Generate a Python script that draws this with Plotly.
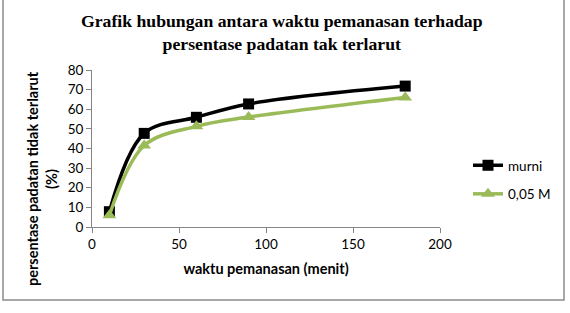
import plotly.graph_objects as go

waktu = [10, 30, 60, 90, 180]
murni = [7.8, 47.7, 55.9, 62.7, 71.8]
m005 = [6.0, 41.5, 51.3, 56.0, 66.0]
x_ticks = [0, 50, 100, 150, 200]
y_ticks = [0, 10, 20, 30, 40, 50, 60, 70, 80]

W, H = 570, 313
L, R, T, B = 92, 130, 70, 86
PW, PH = W - L - R, H - T - B

def px(xp):
    return (xp - L) / PW

def py(yp):
    return (H - B - yp) / PH

fig = go.Figure()
fig.add_trace(go.Scatter(
    x=waktu, y=murni, name="murni", mode="lines+markers",
    line=dict(color="black", width=3.5, shape="spline", smoothing=1),
    marker=dict(symbol="square", size=11, color="black"),
    legendgroup="a"))
fig.add_trace(go.Scatter(
    x=waktu, y=m005, name="0,05 M", mode="lines+markers",
    line=dict(color="#9BBB59", width=3.5, shape="spline", smoothing=1),
    marker=dict(symbol="triangle-up", size=12, color="#9BBB59"),
    legendgroup="b"))

FAM = "Lato, Open Sans, sans-serif"
tick_font = dict(family=FAM, size=13.5, color="black")
fig.update_layout(
    width=W, height=H,
    margin=dict(l=L, r=R, t=T, b=B),
    paper_bgcolor="white", plot_bgcolor="white",
    font=tick_font,
    showlegend=True,
    legend=dict(x=px(468), y=py(150), xanchor="left", yanchor="top",
                font=dict(family=FAM, size=13.5, color="black"),
                traceorder="grouped", tracegroupgap=8,
                bgcolor="rgba(0,0,0,0)"),
    xaxis=dict(range=[0, 200], tickvals=x_ticks, showgrid=False, zeroline=False,
               showline=True, linecolor="#868686", linewidth=1,
               ticks="outside", ticklen=5, tickcolor="#868686",
               tickfont=tick_font,
               title=dict(text="<b>waktu pemanasan (menit)</b>", standoff=12,
                          font=dict(family=FAM, size=14.5, color="black"))),
    yaxis=dict(range=[0, 80], tickvals=y_ticks, showgrid=False, zeroline=False,
               showline=True, linecolor="#868686", linewidth=1,
               ticks="outside", ticklen=5, tickcolor="#868686",
               tickfont=tick_font),
)

fig.add_annotation(
    text="<b>Grafik hubungan antara waktu pemanasan terhadap<br>persentase padatan tak terlarut</b>",
    xref="paper", yref="paper", x=px(282), y=py(9),
    xanchor="center", yanchor="top", showarrow=False,
    font=dict(family="Liberation Serif, Times New Roman, serif", size=17.7, color="black"))

fig.add_annotation(
    text="<b>persentase padatan tidak terlarut<br>(%)</b>",
    xref="paper", yref="paper", x=px(42), y=py(179),
    xanchor="center", yanchor="middle", textangle=-90, showarrow=False,
    font=dict(family=FAM, size=14.5, color="black"))

# chart border
fig.add_shape(type="rect", xref="paper", yref="paper",
              x0=px(3), x1=px(564), y0=py(300), y1=py(-2),
              line=dict(color="#8c8c8c", width=1.5), fillcolor="rgba(0,0,0,0)",
              layer="below")

fig.write_html("out.html")
